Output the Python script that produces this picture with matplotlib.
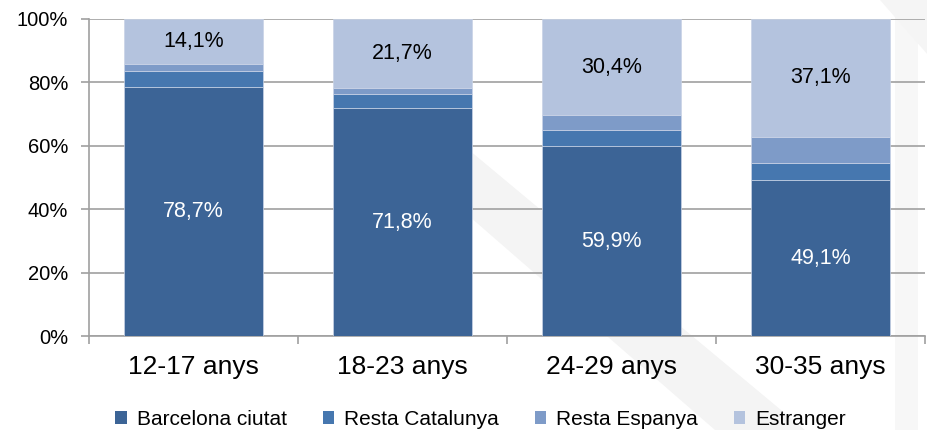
import matplotlib
matplotlib.use("Agg")
import matplotlib.pyplot as plt
from matplotlib.patches import Patch, Polygon
import numpy as np

categories = ["12-17 anys", "18-23 anys", "24-29 anys", "30-35 anys"]
series_names = ["Barcelona ciutat", "Resta Catalunya", "Resta Espanya", "Estranger"]
barcelona = [78.7, 71.8, 59.9, 49.1]
resta_catalunya = [4.8, 4.4, 5.2, 5.6]
resta_espanya = [2.4, 2.1, 4.5, 8.2]
estranger = [14.1, 21.7, 30.4, 37.1]
yticks = [0, 20, 40, 60, 80, 100]

colors = ["#3C6496", "#4677AF", "#7E9BC8", "#B4C3DE"]
label_series = {0: "white", 3: "black"}

plt.rcParams['font.family'] = ['Liberation Sans', 'DejaVu Sans']

W, H = 928, 430
fig = plt.figure(figsize=(W / 100, H / 100), dpi=100)

# faint background watermark shapes
def px_poly(pts, **kw):
    return Polygon([(x / W, 1 - y / H) for x, y in pts], closed=True,
                   transform=fig.transFigure, **kw)

fig.add_artist(px_poly([(370, 130), (445, 130), (805, 430), (715, 430)],
                       facecolor="#F4F4F4", edgecolor="none", zorder=0))
fig.add_artist(px_poly([(895, 0), (918, 0), (918, 430), (895, 430)],
                       facecolor="#F7F7F7", edgecolor="none", zorder=0))
fig.add_artist(px_poly([(880, 0), (928, 0), (928, 55)],
                       facecolor="#F5F5F5", edgecolor="none", zorder=0))

ax = fig.add_axes([89 / W, 1 - 336 / H, (925 - 89) / W, (336 - 19) / H])
ax.patch.set_alpha(0)

x = np.arange(len(categories))
data = [barcelona, resta_catalunya, resta_espanya, estranger]
bottom = np.zeros(len(categories))
width = 0.665
for i, (vals, col) in enumerate(zip(data, colors)):
    vals = np.array(vals)
    ax.bar(x, vals, width, bottom=bottom, color=col, edgecolor="#C9D3E6",
           linewidth=0.5, zorder=3, label=series_names[i])
    if i in label_series:
        for xi, v, b in zip(x, vals, bottom):
            ax.text(xi, b + v / 2, f"{v:.1f}%".replace(".", ","),
                    ha="center", va="center", fontsize=15.5,
                    color=label_series[i], zorder=4)
    bottom += vals

ax.set_xlim(-0.5, len(categories) - 0.5)
ax.set_ylim(0, 100)
ax.set_yticks(yticks)
ax.set_yticklabels([f"{t}%" for t in yticks], fontsize=14.5)
ax.yaxis.grid(True, color="#A0A0A0", linewidth=1.2, zorder=0)
ax.set_axisbelow(True)

ax.set_xticks(x)
ax.set_xticklabels(categories, fontsize=19)
ax.set_xticks(np.arange(-0.5, len(categories)), minor=True)
ax.tick_params(axis="x", which="major", length=0, pad=14)
ax.tick_params(axis="x", which="minor", length=6, width=1.2, color="#A0A0A0")
ax.tick_params(axis="y", length=6, width=1.2, color="#A0A0A0", pad=9)

for s in ["top", "right"]:
    ax.spines[s].set_visible(False)
for s in ["left", "bottom"]:
    ax.spines[s].set_color("#A0A0A0")
    ax.spines[s].set_linewidth(1.2)

handles = [Patch(facecolor=c, edgecolor="none") for c in colors]
fig.legend(handles, series_names, loc="center", bbox_to_anchor=(0.518, 0.025),
           ncol=4, frameon=False, fontsize=15, handlelength=0.55,
           handleheight=0.55, handletextpad=0.5, columnspacing=1.7)

fig.savefig("out.png", dpi=100)
